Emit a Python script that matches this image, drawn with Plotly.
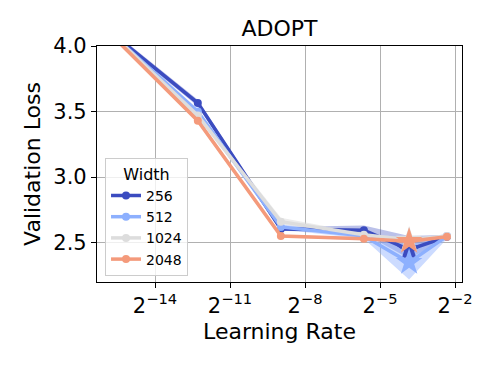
import plotly.graph_objects as go

learning_rates = [2e-5, 2e-4, 2e-3, 2e-2, 7e-2, 2e-1]
widths = ["256", "512", "1024", "2048"]
colors = ["#3b4cc0", "#8db0fe", "#dddddd", "#f49a7b"]
band_colors = ["rgba(59,76,192,0.35)", "rgba(141,176,254,0.45)", "rgba(221,221,221,0.55)", "rgba(244,154,123,0.4)"]

loss_256 = [4.08, 3.565, 2.605, 2.595, 2.447, 2.545]
loss_512 = [4.07, 3.50, 2.62, 2.55, 2.35, 2.55]
loss_1024 = [4.07, 3.47, 2.66, 2.56, 2.52, 2.55]
loss_2048 = [4.06, 3.43, 2.55, 2.53, 2.51, 2.545]

low_256 = [4.06, 3.54, 2.59, 2.57, 2.38, 2.53]
high_256 = [4.10, 3.59, 2.62, 2.63, 2.55, 2.56]
low_512 = [4.05, 3.48, 2.60, 2.53, 2.22, 2.53]
high_512 = [4.09, 3.52, 2.64, 2.57, 2.50, 2.57]
low_1024 = [4.05, 3.45, 2.64, 2.55, 2.50, 2.54]
high_1024 = [4.09, 3.49, 2.69, 2.57, 2.54, 2.56]
low_2048 = [4.04, 3.41, 2.54, 2.52, 2.49, 2.535]
high_2048 = [4.08, 3.45, 2.56, 2.54, 2.53, 2.555]

losses = [loss_256, loss_512, loss_1024, loss_2048]
lows = [low_256, low_512, low_1024, low_2048]
highs = [high_256, high_512, high_1024, high_2048]

tick_exps = [-14, -11, -8, -5, -2]

fig = go.Figure()

for i, w in enumerate(widths):
    fig.add_trace(go.Scatter(
        x=learning_rates + learning_rates[::-1],
        y=highs[i] + lows[i][::-1],
        fill="toself", fillcolor=band_colors[i],
        line=dict(width=0), mode="lines", hoverinfo="skip", showlegend=False))

for i, w in enumerate(widths):
    fig.add_trace(go.Scatter(
        x=learning_rates, y=losses[i], mode="lines+markers", name=w,
        line=dict(color=colors[i], width=3.5),
        marker=dict(color=colors[i], size=8, symbol="circle")))
    j = min(range(len(losses[i])), key=lambda k: losses[i][k])
    fig.add_trace(go.Scatter(
        x=[learning_rates[j]], y=[losses[i][j]], mode="markers", showlegend=False,
        marker=dict(color=colors[i], size=20, symbol="star", line=dict(width=0))))

fig.update_layout(
    width=488, height=366,
    margin=dict(l=89, r=34, t=38, b=92),
    paper_bgcolor="white", plot_bgcolor="white",
    font=dict(family="DejaVu Sans", color="black", size=21),
    title=dict(text="ADOPT", x=0.5, xanchor="center", y=0.945, yanchor="middle",
               xref="paper", font=dict(size=22)),
    showlegend=True,
    legend=dict(
        title=dict(text="Width", font=dict(size=16), side="top center"),
        font=dict(size=14),
        x=0.022, y=0.025, xanchor="left", yanchor="bottom",
        bgcolor="rgba(255,255,255,0.8)", bordercolor="#cccccc", borderwidth=1,
        tracegroupgap=0, itemwidth=30),
)

fig.update_xaxes(
    type="log", range=[-16.32 * 0.30103, -1.72 * 0.30103],
    tickvals=[2.0 ** e for e in tick_exps],
    ticktext=["2<sup>\u2212%d</sup>" % (-e) for e in tick_exps],
    showgrid=True, gridcolor="#b0b0b0", gridwidth=1,
    showline=True, linecolor="black", linewidth=1.2, mirror=True,
    ticks="outside", ticklen=5, tickcolor="black",
    title=dict(text="Learning Rate", font=dict(size=22), standoff=6),
    tickfont=dict(size=21), zeroline=False, automargin=False,
)
fig.update_yaxes(
    range=[2.2, 4.0], tickvals=[2.5, 3.0, 3.5, 4.0], ticktext=["2.5", "3.0", "3.5", "4.0"],
    showgrid=True, gridcolor="#b0b0b0", gridwidth=1,
    showline=True, linecolor="black", linewidth=1.2, mirror=True,
    ticks="outside", ticklen=5, tickcolor="black",
    title=dict(text="Validation Loss", font=dict(size=22), standoff=6),
    tickfont=dict(size=21), zeroline=False, automargin=False,
)

fig.write_html("out.html")
